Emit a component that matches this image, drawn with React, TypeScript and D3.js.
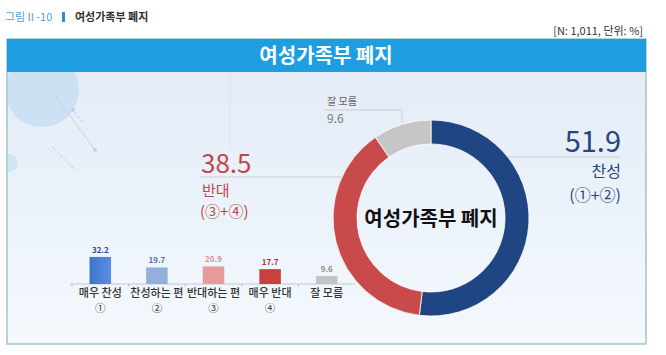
import React from "react";
import * as d3 from "d3";

const donutLabels = ["찬성", "반대", "잘 모름"];
const donutValues = [51.9, 38.5, 9.6];
const donutColors = ["#1f4682", "#c94a4b", "#c6c6c6"];

const barCategories = ["매우 찬성", "찬성하는 편", "반대하는 편", "매우 반대", "잘 모름"];
const barSubLabels = ["①", "②", "③", "④", ""];
const barValues = [32.2, 19.7, 20.9, 17.7, 9.6];
const barColors = ["#4f83d7", "#93afdc", "#e69a99", "#c8413f", "#c4c4c4"];
const barValueColors = ["#2d4f8c", "#5274ad", "#e58d8d", "#a83838", "#8a8a8a"];

const FONT = "'Noto Sans CJK KR', 'Noto Sans', sans-serif";

export default function App() {
  const W = 666, H = 355;
  const cx = 431, cy = 218, R = 98, r = 74;

  const pie = d3.pie<number>().sort(null).value((d) => d)(donutValues);
  const arc = d3.arc<d3.PieArcDatum<number>>().innerRadius(r).outerRadius(R);

  const baseline = 284;
  const x = d3.scaleBand<string>().domain(barCategories).range([72, 355]).paddingInner(0.62).paddingOuter(0.31);
  const y = d3.scaleLinear().domain([0, 40]).range([baseline, baseline - 33.6]);
  const step = x.step();
  const tickXs = d3.range(barCategories.length).map((i) => 72 + i * step);

  return (
    <svg width={W} height={H} style={{ position: "fixed", left: 0, top: 0, display: "block" }} fontFamily={FONT}>
      <defs>
        <linearGradient id="bg" x1="0" y1="0" x2="0" y2="1">
          <stop offset="0" stopColor="#e3eaf6" />
          <stop offset="1" stopColor="#f3f9fd" />
        </linearGradient>
        <linearGradient id="b1" x1="0" y1="0" x2="1" y2="0">
          <stop offset="0" stopColor="#3f74cf" />
          <stop offset="1" stopColor="#5a8ee0" />
        </linearGradient>
        <clipPath id="body">
          <rect x={8} y={72} width={637} height={271} />
        </clipPath>
      </defs>
      <rect x={0} y={0} width={W} height={H} fill="#ffffff" />

      {/* figure caption */}
      <text x={5} y={21} fontSize={11} fill="#4fa3d6">그림Ⅱ-10</text>
      <rect x={62} y={12} width={3} height={10} fill="#2a8fd0" />
      <text x={75} y={21} fontSize={11} fill="#333" fontWeight={700}>여성가족부 폐지</text>
      <text x={643} y={35} fontSize={11} fill="#333" textAnchor="end">[N: 1,011, 단위: %]</text>

      {/* box */}
      <rect x={7} y={39} width={639} height={305} fill="url(#bg)" stroke="#9ec6cb" strokeWidth={1.5} />
      <g clipPath="url(#body)">
        <circle cx={42} cy={90} r={37} fill="#c6dff3" opacity={0.8} />
        <circle cx={9} cy={163} r={9} fill="#c6dff3" opacity={0.7} />
        <line x1={55} y1={95} x2={95} y2={150} stroke="#c5d2e4" strokeWidth={1} />
        <line x1={72} y1={108} x2={84} y2={124} stroke="#c5d2e4" strokeWidth={1.2} strokeDasharray="2 3" />
        <line x1={32} y1={135} x2={75} y2={170} stroke="#cdd8e8" strokeWidth={1} strokeDasharray="2 3" />
        <line x1={52} y1={147} x2={75} y2={169} stroke="#cdd8e8" strokeWidth={1} />
        <circle cx={95} cy={150} r={2} fill="#c5d2e4" />
        <circle cx={73} cy={110} r={2} fill="#c5d2e4" />
        <line x1={230} y1={72} x2={230} y2={150} stroke="#dde3ee" strokeWidth={1} />
      </g>
      <rect x={7} y={39} width={639} height={33} fill="#1e9ee0" />
      <text x={326} y={63} fontSize={20} fontWeight={700} fill="#ffffff" textAnchor="middle">여성가족부 폐지</text>

      {/* leader lines */}
      <polyline points={`325,110 402,110 402,123`} fill="none" stroke="#c9ced8" strokeWidth={1} />
      <line x1={200} y1={177} x2={342} y2={177} stroke="#c9ced8" strokeWidth={1} />
      <line x1={508} y1={157} x2={620} y2={157} stroke="#c9ced8" strokeWidth={1} />

      {/* donut */}
      <g transform={`translate(${cx},${cy})`}>
        {pie.map((p, i) => (
          <path key={i} d={arc(p) || ""} fill={donutColors[i]} stroke="#ffffff" strokeWidth={0.8} />
        ))}
        <text x={0} y={8} fontSize={20} fontWeight={700} fill="#111" textAnchor="middle">여성가족부 폐지</text>
      </g>

      {/* donut labels */}
      <text x={327} y={105} fontSize={10} fill="#666">{donutLabels[2]}</text>
      <text x={327} y={123} fontSize={12} fill="#777">{donutValues[2].toFixed(1)}</text>

      <text x={201} y={173} fontSize={26} fill="#c0474c">{donutValues[1].toFixed(1)}</text>
      <text x={202} y={196} fontSize={15} fill="#c0474c">{donutLabels[1]}</text>
      <text x={200} y={217} fontSize={15} fill="#c0474c">(③+④)</text>

      <text x={621} y={152} fontSize={29} fill="#26477d" textAnchor="end">{donutValues[0].toFixed(1)}</text>
      <text x={621} y={177} fontSize={16} fill="#26477d" textAnchor="end">{donutLabels[0]}</text>
      <text x={621} y={201} fontSize={16} fill="#26477d" textAnchor="end">(①+②)</text>

      {/* bar chart */}
      <line x1={70} y1={baseline} x2={355} y2={baseline} stroke="#c4c8cf" strokeWidth={1} />
      {tickXs.map((t, i) => (
        <line key={i} x1={t} y1={baseline} x2={t} y2={baseline + 2.5} stroke="#b8bcc4" strokeWidth={1} />
      ))}
      {barCategories.map((c, i) => {
        const bx = x(c) as number;
        const bw = x.bandwidth();
        const top = y(barValues[i]);
        const mid = bx + bw / 2;
        return (
          <g key={c}>
            <rect x={bx} y={top} width={bw} height={baseline - top} fill={i === 0 ? "url(#b1)" : barColors[i]} />
            <text x={mid} y={top - 4} fontSize={8} fontWeight={700} fill={barValueColors[i]} textAnchor="middle">
              {barValues[i].toFixed(1)}
            </text>
            <text x={mid} y={297} fontSize={11} fontWeight={500} fill="#333" textAnchor="middle">{c}</text>
            {barSubLabels[i] && (
              <text x={mid} y={312} fontSize={10.5} fill="#333" textAnchor="middle">{barSubLabels[i]}</text>
            )}
          </g>
        );
      })}
    </svg>
  );
}
